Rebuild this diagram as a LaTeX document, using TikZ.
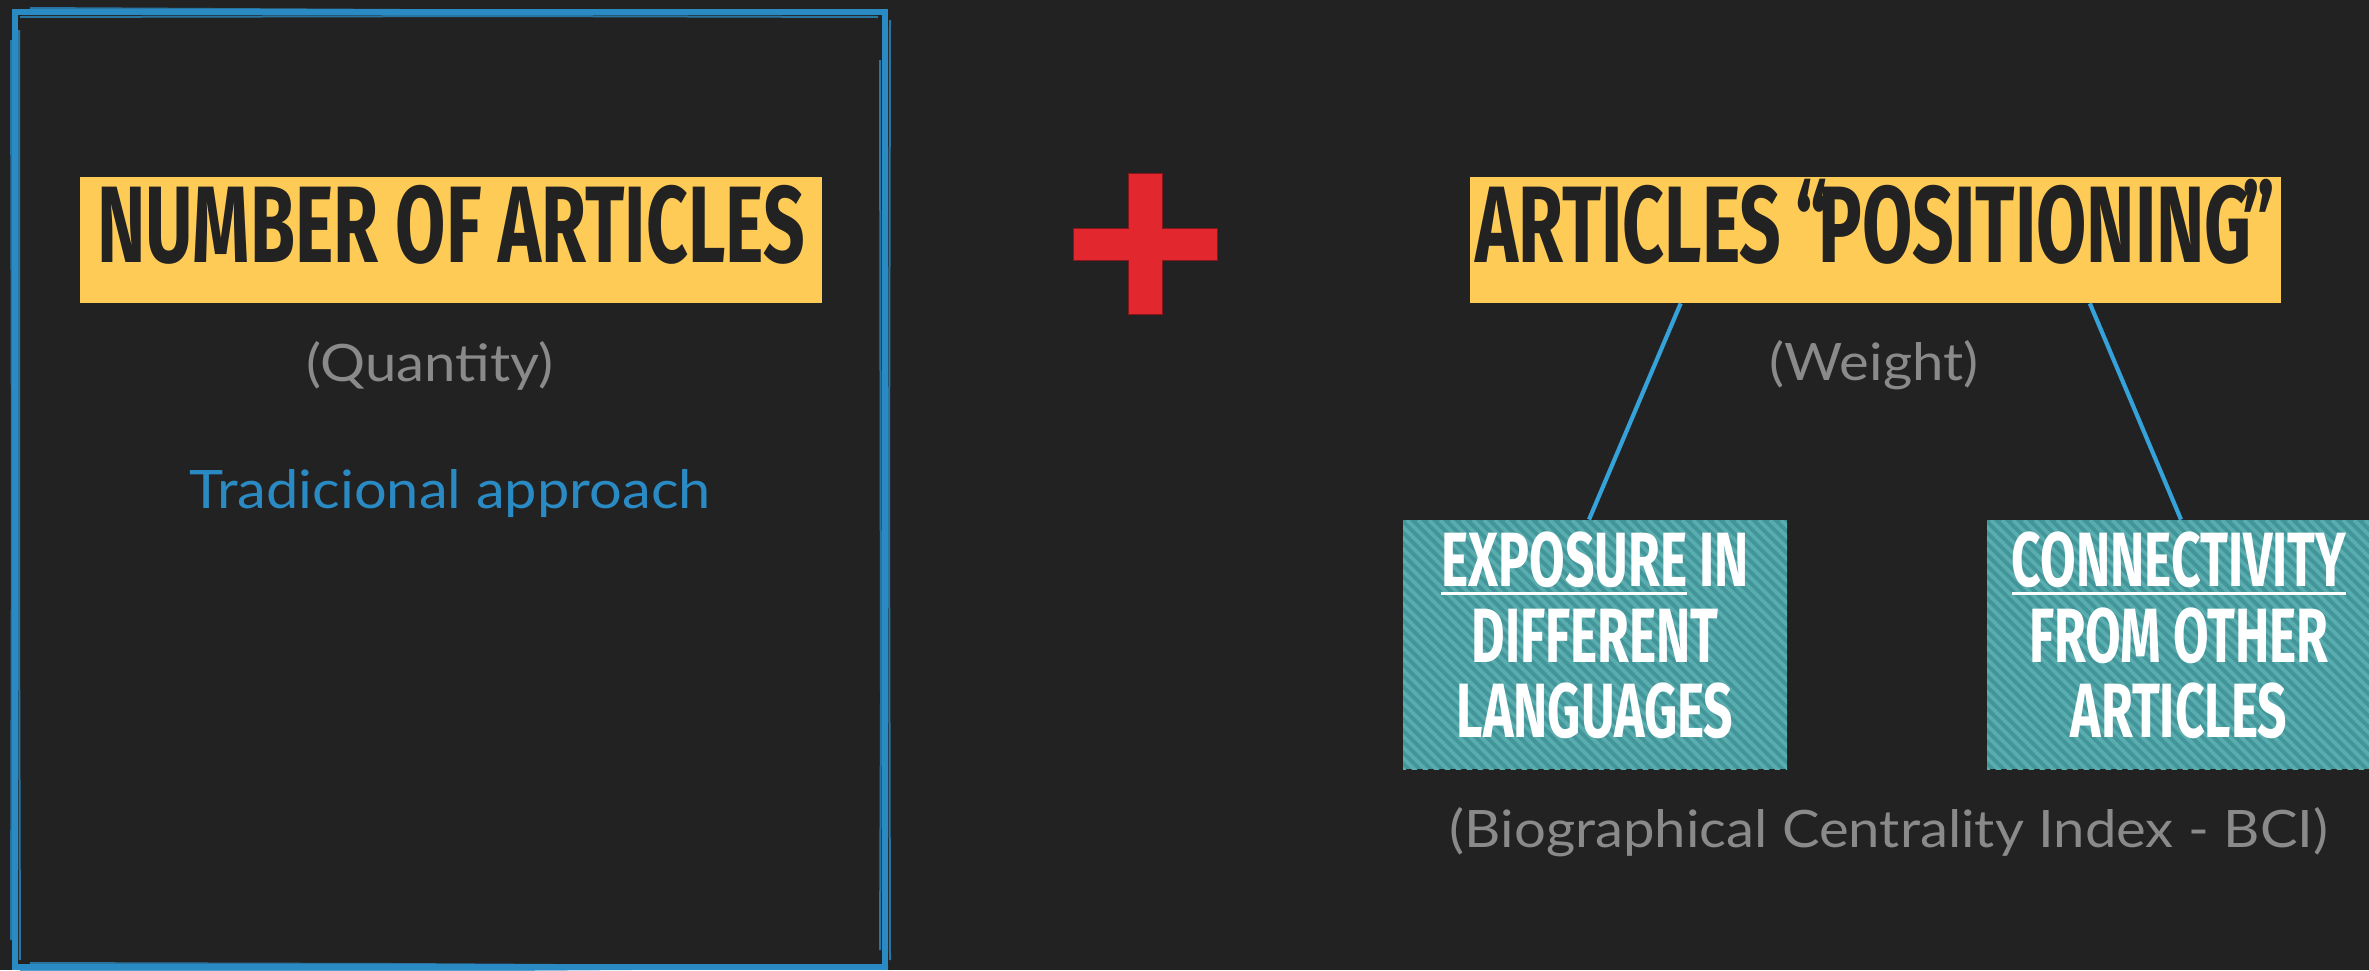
\documentclass[tikz,border=0pt]{standalone}
\usepackage{fontspec}
\setmainfont{Lato}[FakeStretch=1.09]
\newfontfamily\dinfont{Fira Sans}[FakeStretch=0.67]
\usetikzlibrary{calc,positioning}
\definecolor{bgdark}{HTML}{222222}
\definecolor{headyellow}{HTML}{FECB57}
\definecolor{frameblue}{HTML}{2A8AC3}
\definecolor{linkblue}{HTML}{36A2DA}
\definecolor{tealbase}{HTML}{429699}
\definecolor{teallight}{HTML}{5AADAF}
\definecolor{notegrey}{HTML}{8A8A8A}
\definecolor{plusred}{HTML}{E3272F}
\newcommand{\dinul}[1]{\setbox0=\hbox{#1}\rlap{\rule[-4.25pt]{\wd0}{1.5pt}}\box0\relax}
\tikzset{
  headbox/.style={fill=headyellow, text=bgdark, inner sep=0pt, minimum width=#1,
    text height=42.5pt, text depth=20.5pt, font=\dinfont\bfseries\fontsize{54.4}{60}\selectfont},
  tealbox/.style={fill=tealbase, inner sep=0pt, minimum width=192pt, minimum height=124.5pt,
    path picture={\foreach \k in {0,11,...,660}
      \draw[teallight, line width=1.9pt] ($(path picture bounding box.north west)+(\k-260,0)$) -- ++(300,300);}},
  tealtext/.style={text=white, align=center, inner sep=0pt,
    font=\dinfont\bfseries\fontsize{38.5}{37.75}\selectfont},
  notetext/.style={text=notegrey, inner sep=0pt, anchor=base, font=\fontsize{25.8}{30}\selectfont},
  link/.style={linkblue, line width=2.1pt},
  rough/.style={frameblue, line width=1pt, opacity=0.8}
}
\begin{document}
\begin{tikzpicture}[x=0.5pt, y=-0.5pt]
\fill [bgdark] (0,0) rectangle (2369,970);
\useasboundingbox (0,0) rectangle (2369,970);

\draw [frameblue, line width=3.4pt] (15,12) rectangle (885,967);
\draw [rough] (30,8) -- (400,10) -- (880,12);
\draw [rough] (20,17) -- (500,16) -- (878,17);
\draw [rough] (11,40) -- (12,500) -- (11,940);
\draw [rough] (19,30) -- (19,600) -- (20,960);
\draw [rough] (890,20) -- (889,500) -- (890,960);
\draw [rough] (880,60) -- (881,700) -- (880,950);
\draw [rough] (20,971) -- (500,970) -- (888,967);
\draw [rough] (30,963) -- (400,964) -- (870,967);

\node [headbox=371pt] (count) at (451,240) {NUMBER OF ARTICLES};
\node [notetext] (quantity) at (430,381) {(Quantity)};
\node [notetext, text=frameblue, font=\fontsize{26.5}{30}\selectfont] (tradition) at (450,508) {Tradicional approach};

\fill [plusred, draw=plusred!60!black, line width=0.5pt] (1128,173) -- (1162,173) -- (1162,228) -- (1217,228)
  -- (1217,260) -- (1162,260) -- (1162,314) -- (1128,314) -- (1128,260) -- (1073,260) -- (1073,228) -- (1128,228) -- cycle;

\node [headbox=405.5pt] (position) at (1875.5,240) {ARTICLES\hspace{-1.5pt} “\kern-5pt POSITIONING\kern-4.5pt”};
\node [notetext] (weight) at (1874,380) {(Weight)};

\node [tealbox] (exposure) at (1595,644.5) {};
\node [tealbox] (connect) at (2179,644.5) {};
\node [tealtext, below=6pt of exposure.north] (exposuretext) {\dinul{EXPOSURE} IN\\DIFFERENT\\LANGUAGES};
\node [tealtext, below=6pt of connect.north] (connecttext) {\dinul{CONNECTIVITY}\\FROM OTHER\\ARTICLES};

\draw [link] ($(position.south west)!0.26!(position.south east)$) -- ($(exposure.north)+(-6,0)$);
\draw [link] ($(position.south west)!0.764!(position.south east)$) -- ($(connect.north)+(2,0)$);

\node [notetext] (bci) at (1889,847) {(Biographical Centrality Index - BCI)};
\end{tikzpicture}
\end{document}
